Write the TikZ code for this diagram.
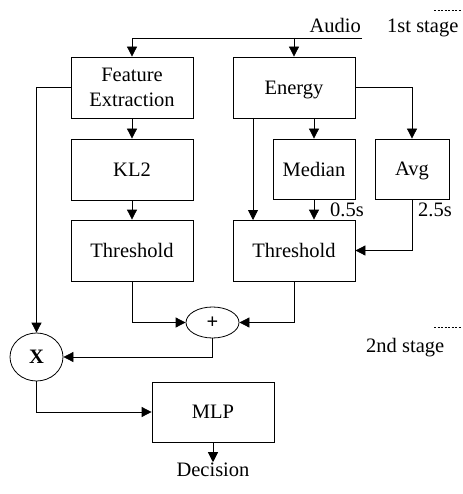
\documentclass[tikz,border=0pt]{standalone}
\usepackage{fontspec}
\setmainfont{Liberation Serif}
\usetikzlibrary{arrows.meta,shapes.geometric}
\begin{document}
\begin{tikzpicture}[x=1pt,y=-1pt,
  every node/.style={font=\fontsize{20.5}{25}\selectfont},
  blk/.style={draw,line width=0.8pt,rectangle,inner sep=0pt,align=center,text depth=0pt},
  circ/.style={draw,line width=0.8pt,ellipse,inner sep=0pt,font=\fontsize{20.5}{25}\selectfont\bfseries},
  lbl/.style={inner sep=0pt},
  arr/.style={line width=0.8pt,-{Triangle[length=10pt,width=10pt]}},
  ln/.style={line width=0.8pt},
  dots/.style={line width=0.6pt,dash pattern=on 2pt off 1.5pt}]
\useasboundingbox (0,0) rectangle (462,494);
% blocks
\node[blk,minimum width=122pt,minimum height=61pt] (feat) at (132,87.5) {Feature\\Extraction};
\node[blk,minimum width=122pt,minimum height=61pt] (kl) at (132,169.5) {KL2};
\node[blk,minimum width=122pt,minimum height=61pt] (thrL) at (132,250.5) {Threshold};
\node[blk,minimum width=122pt,minimum height=61pt] (energy) at (294,87.5) {Energy};
\node[blk,minimum width=82pt,minimum height=60pt] (median) at (314,169) {Median};
\node[blk,minimum width=74pt,minimum height=60pt] (avg) at (412,169) {Avg};
\node[blk,minimum width=122pt,minimum height=61pt] (thrR) at (294,250.5) {Threshold};
\node[circ,minimum width=53pt,minimum height=31pt] (plus) at (212.5,322.5) {+};
\node[circ,minimum width=53pt,minimum height=48pt] (X) at (36.5,357) {X};
\node[blk,minimum width=122pt,minimum height=60pt] (mlp) at (213,412) {MLP};
% texts
\node[lbl,anchor=base east] (audio) at (361,33) {Audio};
\node[lbl,anchor=base west] (st1) at (387,33) {1st stage};
\node[lbl,anchor=base west] (st2) at (366,352) {2nd stage};
\node[lbl,anchor=base] (dec) at (213,476) {Decision};
\node[lbl,anchor=base west] (l05) at (330,216) {0.5s};
\node[lbl,anchor=base west] (l25) at (418,216) {2.5s};
% coordinates
\coordinate (aud) at (362,38);
\coordinate (d1a) at (434,10);
\coordinate (d1b) at (462,10);
\coordinate (d2a) at (434,327);
\coordinate (d2b) at (462,327);
\coordinate (eL) at (253,118);
\coordinate (tL) at (253,220);
% stage markers
\draw[dots] (d1a) -- (d1b);
\draw[dots] (d2a) -- (d2b);
% connectors
\draw[arr] (aud) -| (feat.north);
\draw[arr] (energy.north |- aud) -- (energy.north);
\draw[arr] (feat) -- (kl);
\draw[arr] (kl) -- (thrL);
\draw[arr] (feat.west) -| (X.north);
\draw[arr] (energy.east) -| (avg.north);
\draw[arr] (eL) -- (tL);
\draw[arr] (energy.south -| median.north) -- (median.north);
\draw[arr] (median.south) -- (median.south |- thrR.north);
\draw[arr] (avg.south) |- (thrR.east);
\draw[arr] (thrL.south) |- (plus.west);
\draw[arr] (thrR.south) |- (plus.east);
\draw[arr] (plus.south) |- (X.east);
\draw[arr] (X.south) |- (mlp.west);
\draw[arr] (mlp.south) -- (dec.north);
\end{tikzpicture}
\end{document}
